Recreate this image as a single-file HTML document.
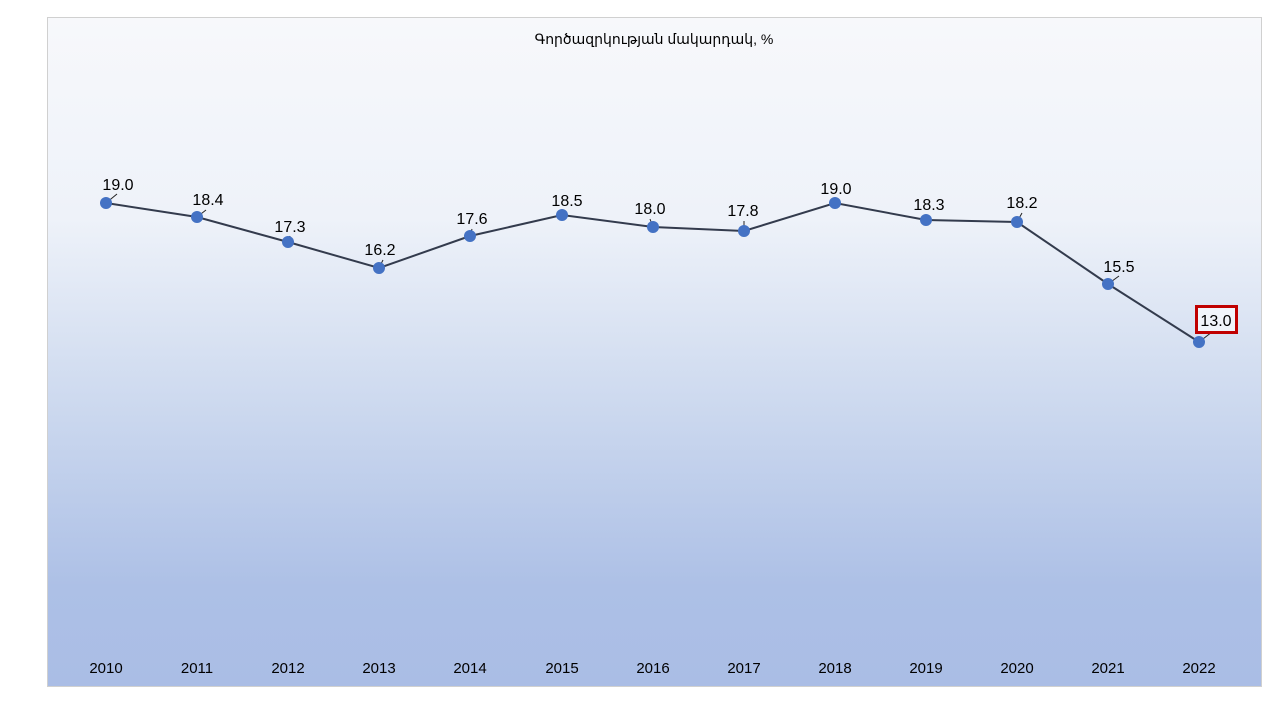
<!DOCTYPE html>
<html><head><meta charset="utf-8"><style>
html,body{margin:0;padding:0;background:#fff;width:1280px;height:720px;overflow:hidden}
</style></head><body>
<svg width="1280" height="720" xmlns="http://www.w3.org/2000/svg" font-family="'Liberation Sans', 'DejaVu Sans', sans-serif">
<defs><linearGradient id="g" x1="0" y1="0" x2="0" y2="1">
<stop offset="0" stop-color="#f7f8fb"/><stop offset="0.3" stop-color="#eef2f9"/><stop offset="0.6" stop-color="#cad7ee"/><stop offset="0.85" stop-color="#adc0e6"/><stop offset="1" stop-color="#aabde5"/></linearGradient></defs>
<rect x="47.5" y="17.5" width="1214" height="669" fill="url(#g)" stroke="#d0d0d0"/>
<text x="654" y="44" font-size="14" text-anchor="middle" fill="#000">Գործազրկության մակարդակ, %</text>
<polyline fill="none" stroke="#333b4d" stroke-width="2" points="106,203 197,217 288,242 379,268 470,236 562,215 653,227 744,231 835,203 926,220 1017,222 1108,284 1199,342"/>
<g stroke="#222" stroke-width="1">
<line x1="106" y1="203" x2="117" y2="194"/><line x1="197" y1="217" x2="206" y2="210"/><line x1="288" y1="242" x2="290" y2="236"/><line x1="379" y1="268" x2="383" y2="260"/><line x1="470" y1="236" x2="472" y2="229"/><line x1="653" y1="227" x2="650" y2="219"/><line x1="744" y1="231" x2="744" y2="221"/><line x1="1017" y1="222" x2="1022" y2="213"/><line x1="1108" y1="284" x2="1119" y2="276"/><line x1="1199" y1="342" x2="1212" y2="332"/>
</g>
<g fill="#4472c4">
<circle cx="106" cy="203" r="6"/><circle cx="197" cy="217" r="6"/><circle cx="288" cy="242" r="6"/><circle cx="379" cy="268" r="6"/><circle cx="470" cy="236" r="6"/><circle cx="562" cy="215" r="6"/><circle cx="653" cy="227" r="6"/><circle cx="744" cy="231" r="6"/><circle cx="835" cy="203" r="6"/><circle cx="926" cy="220" r="6"/><circle cx="1017" cy="222" r="6"/><circle cx="1108" cy="284" r="6"/><circle cx="1199" cy="342" r="6"/>
</g>
<rect x="1196.5" y="306.5" width="40" height="26" fill="#fff" fill-opacity="0.6" stroke="#c00000" stroke-width="3"/>
<g font-size="16" text-anchor="middle" fill="#000">
<text x="118" y="190">19.0</text><text x="208" y="205">18.4</text><text x="290" y="232">17.3</text><text x="380" y="255">16.2</text><text x="472" y="224">17.6</text><text x="567" y="206">18.5</text><text x="650" y="214">18.0</text><text x="743" y="216">17.8</text><text x="836" y="194">19.0</text><text x="929" y="210">18.3</text><text x="1022" y="208">18.2</text><text x="1119" y="272">15.5</text><text x="1216" y="326">13.0</text>
</g>
<g font-size="15" text-anchor="middle" fill="#000">
<text x="106" y="673">2010</text><text x="197" y="673">2011</text><text x="288" y="673">2012</text><text x="379" y="673">2013</text><text x="470" y="673">2014</text><text x="562" y="673">2015</text><text x="653" y="673">2016</text><text x="744" y="673">2017</text><text x="835" y="673">2018</text><text x="926" y="673">2019</text><text x="1017" y="673">2020</text><text x="1108" y="673">2021</text><text x="1199" y="673">2022</text>
</g>
</svg>
</body></html>
